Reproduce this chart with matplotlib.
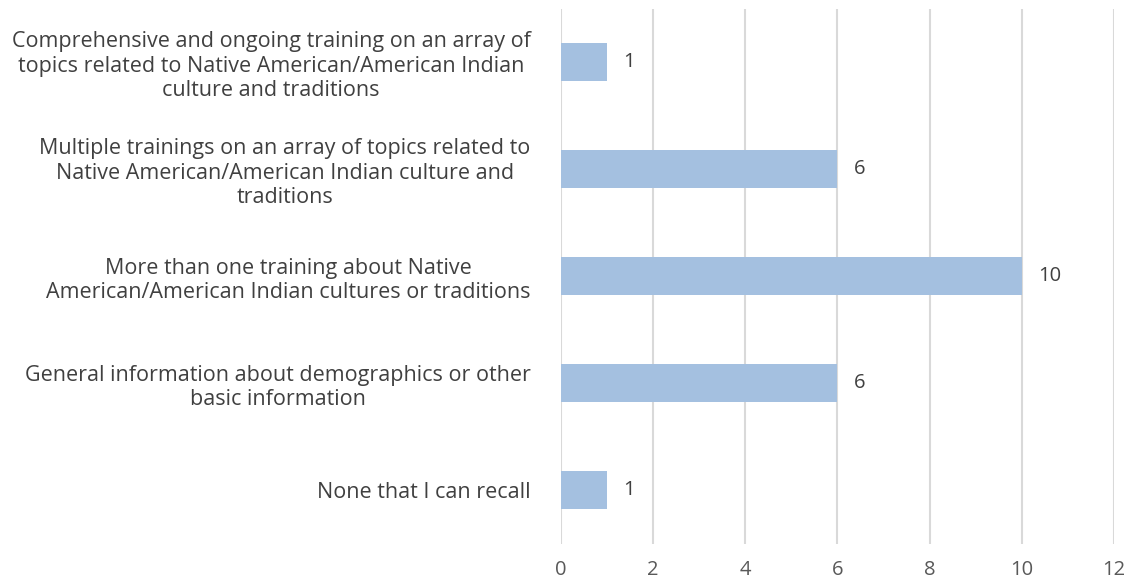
import matplotlib.pyplot as plt

categories = [
    "None that I can recall",
    "General information about demographics or other\nbasic information",
    "More than one training about Native\nAmerican/American Indian cultures or traditions",
    "Multiple trainings on an array of topics related to\nNative American/American Indian culture and\ntraditions",
    "Comprehensive and ongoing training on an array of\ntopics related to Native American/American Indian\nculture and traditions",
]
counts = [1, 6, 10, 6, 1]
xticks = [0, 2, 4, 6, 8, 10, 12]

plt.rcParams['font.family'] = ['Open Sans', 'DejaVu Sans']

fig = plt.figure(figsize=(11.39, 5.82), dpi=100)
ax = fig.add_axes([0.4925, 0.066, 0.4855, 0.919])

pos = range(len(categories))
ax.barh(pos, counts, height=0.36, color="#a4c0e0", zorder=2)
for y, v in zip(pos, counts):
    ax.text(v + 0.35, y, str(v), va="center", ha="left", fontsize=14.5, color="#404040")

ax.set_xlim(0, 12)
ax.set_ylim(-0.5, len(categories) - 0.5)
ax.set_xticks(xticks)
ax.set_xticklabels([str(t) for t in xticks], fontsize=14.5, color="#595959")
ax.set_yticks(list(pos))
ax.set_yticklabels(categories, fontsize=15.5, color="#404040",
                   multialignment="center", linespacing=1.22)
ax.tick_params(axis="both", length=0)
ax.tick_params(axis="y", pad=22)
ax.tick_params(axis="x", pad=12)
ax.xaxis.grid(True, color="#d9d9d9", linewidth=1.5, zorder=0)
ax.set_axisbelow(True)
for s in ax.spines.values():
    s.set_visible(False)

fig.savefig("out.png", dpi=100)
